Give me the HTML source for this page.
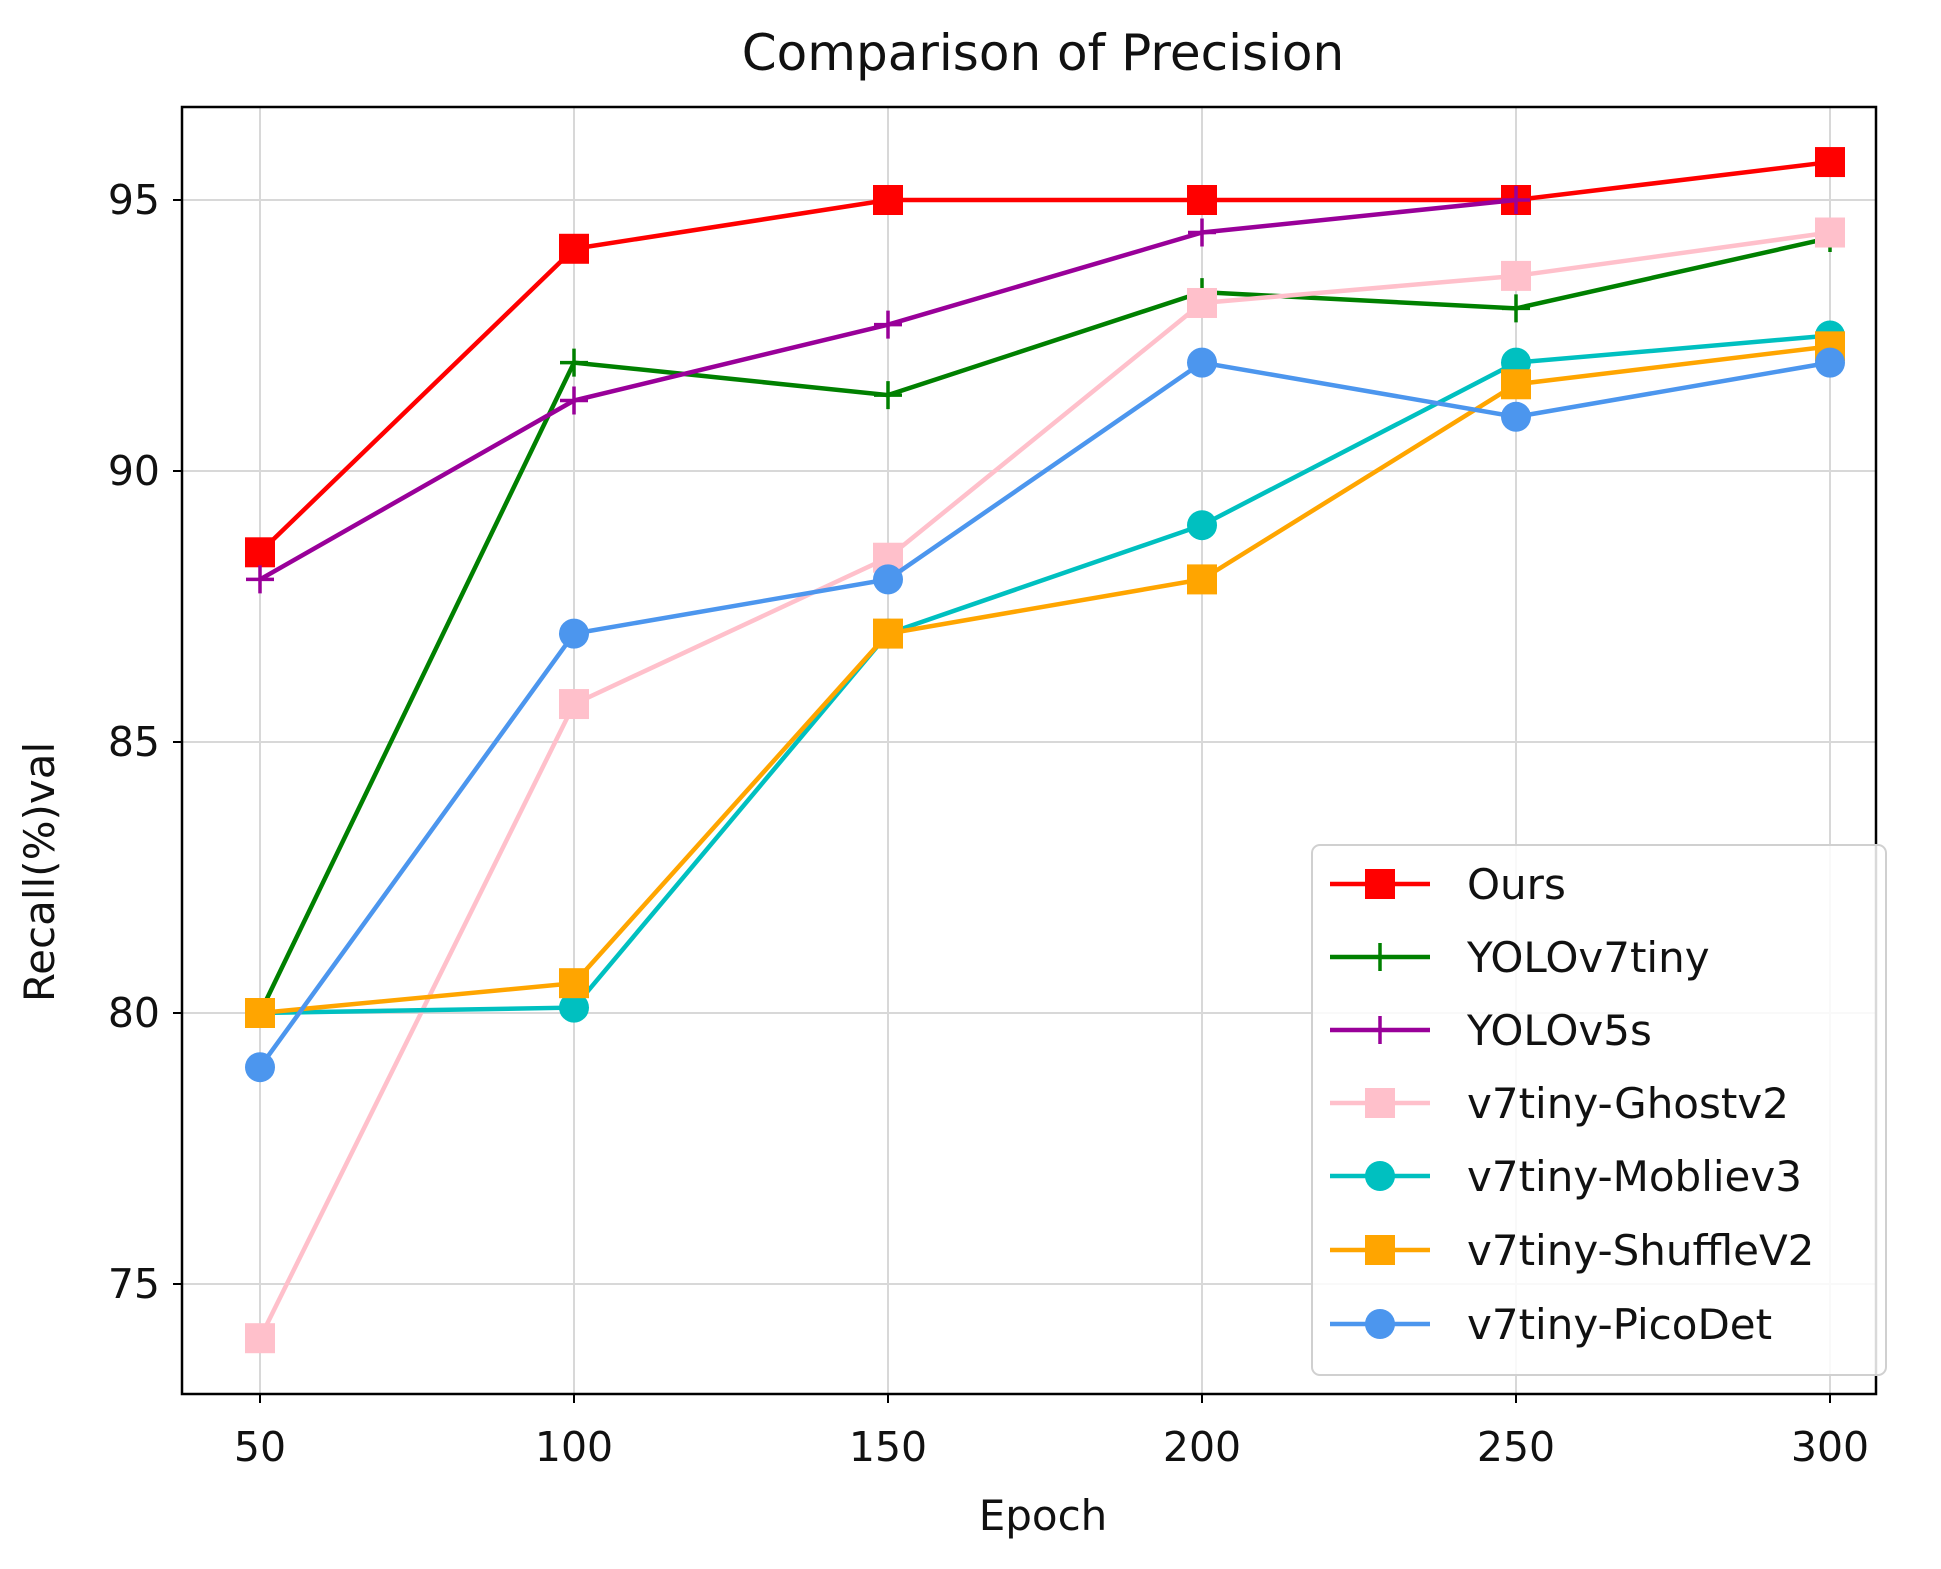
<!DOCTYPE html>
<html><head><meta charset="utf-8"><style>
html,body{margin:0;padding:0;background:#fff}
svg text{font-family:"DejaVu Sans","Liberation Sans",sans-serif;fill:#111}
</style></head><body>
<svg id="chart" width="1941" height="1564" viewBox="0 0 1941 1564" xmlns="http://www.w3.org/2000/svg">
<rect x="0" y="0" width="1941" height="1564" fill="#fff"/>
<text x="1043" y="70" font-size="50" text-anchor="middle">Comparison of Precision</text>
<text x="1043" y="1530" font-size="42" text-anchor="middle">Epoch</text>
<text x="0" y="0" font-size="42" text-anchor="middle" transform="translate(54,872) rotate(-90)">Recall(%)val</text>
<g id="grid"></g><g id="series"></g><g id="axes"></g><g id="legend"></g>
</svg>
<script>
const epochs=[50,100,150,200,250,300];
const yTicks=[75,80,85,90,95];
const names=["Ours","YOLOv7tiny","YOLOv5s","v7tiny-Ghostv2","v7tiny-Mobliev3","v7tiny-ShuffleV2","v7tiny-PicoDet"];
const colors=["#ff0000","#008000","#990099","#ffc0cb","#00c0c0","#ffa500","#4c96ee"];
const markers=["square","plus","plus","square","circle","square","circle"];
const ours=[88.5,94.1,95,95,95,95.7];
const yolov7tiny=[80,92,91.4,93.3,93,94.3];
const yolov5s=[88,91.3,92.7,94.4,95,null];
const ghostv2=[74,85.7,88.4,93.1,93.6,94.4];
const mobliev3=[80,80.1,87,89,92,92.5];
const shufflev2=[80,80.55,87,88,91.6,92.3];
const picodet=[79,87,88,92,91,92];
const seriesVals=[ours,yolov7tiny,yolov5s,ghostv2,mobliev3,shufflev2,picodet];
const L=182,R=1876,T=107,B=1394;
function xs(e){return 260+(e-50)*(1830-260)/250;}
function ys(v){return 200+(95-v)*54.2;}
const NS="http://www.w3.org/2000/svg";
function mk(tag,attrs,parent){const el=document.createElementNS(NS,tag);for(const k in attrs)el.setAttribute(k,attrs[k]);parent.appendChild(el);return el;}
const grid=document.getElementById('grid'),axes=document.getElementById('axes'),sg=document.getElementById('series'),lg=document.getElementById('legend');
epochs.forEach(e=>{
 const g=mk('line',{x1:xs(e),x2:xs(e),y1:T,y2:B,stroke:'#d8d8d8','stroke-width':2},grid);
 
 
 mk('line',{x1:xs(e),x2:xs(e),y1:B,y2:B+9,stroke:'#000','stroke-width':2},axes);
 const t=mk('text',{x:xs(e),y:B+67,'font-size':41,'text-anchor':'middle'},axes);t.textContent=e;
 
 
});
yTicks.forEach(v=>{
 const g=mk('line',{x1:L,x2:R,y1:ys(v),y2:ys(v),stroke:'#d8d8d8','stroke-width':2},grid);
 
 
 mk('line',{x1:L-9,x2:L,y1:ys(v),y2:ys(v),stroke:'#000','stroke-width':2},axes);
 const t=mk('text',{x:L-22,y:ys(v)+14,'font-size':41,'text-anchor':'end'},axes);t.textContent=v;
 
 
});
const frame=mk('rect',{x:L,y:T,width:R-L,height:B-T,fill:'none',stroke:'#000','stroke-width':2.5},axes);


function marker(type,cx,cy,c,parent){
 let m;
 if(type==='square')m=mk('rect',{x:cx-15,y:cy-15,width:30,height:30,fill:c},parent);
 else if(type==='circle')m=mk('circle',{cx:cx,cy:cy,r:15,fill:c},parent);
 else m=mk('path',{d:`M${cx-14} ${cy}H${cx+14}M${cx} ${cy-14}V${cy+14}`,stroke:c,'stroke-width':3.5,fill:'none'},parent);
 return m;
}
seriesVals.forEach((vals,i)=>{
 const g=mk('g',{},sg);
 
 
 const pts=[];vals.forEach((v,j)=>{if(v!==null)pts.push([xs(epochs[j]),ys(v)]);});
 const pl=mk('polyline',{points:pts.map(p=>p.join(',')).join(' '),fill:'none',stroke:colors[i],'stroke-width':4.5},g);
 
 
 pts.forEach(p=>{const m=marker(markers[i],p[0],p[1],colors[i],g);
  
  });
});
const lb=mk('rect',{x:1312,y:845,width:574,height:530,rx:8,fill:'#fff','fill-opacity':0.85,stroke:'#d0d0d0','stroke-width':2},lg);


const ly=[884,957,1030,1103,1176,1250,1324];
names.forEach((n,i)=>{
 const g=mk('g',{},lg);
 
 
 mk('line',{x1:1330,x2:1430,y1:ly[i],y2:ly[i],stroke:colors[i],'stroke-width':4.5},g);
 marker(markers[i],1380,ly[i],colors[i],g);
 const t=mk('text',{x:1467,y:ly[i]+15,'font-size':42},g);t.textContent=n;
});
</script>
</body></html>
